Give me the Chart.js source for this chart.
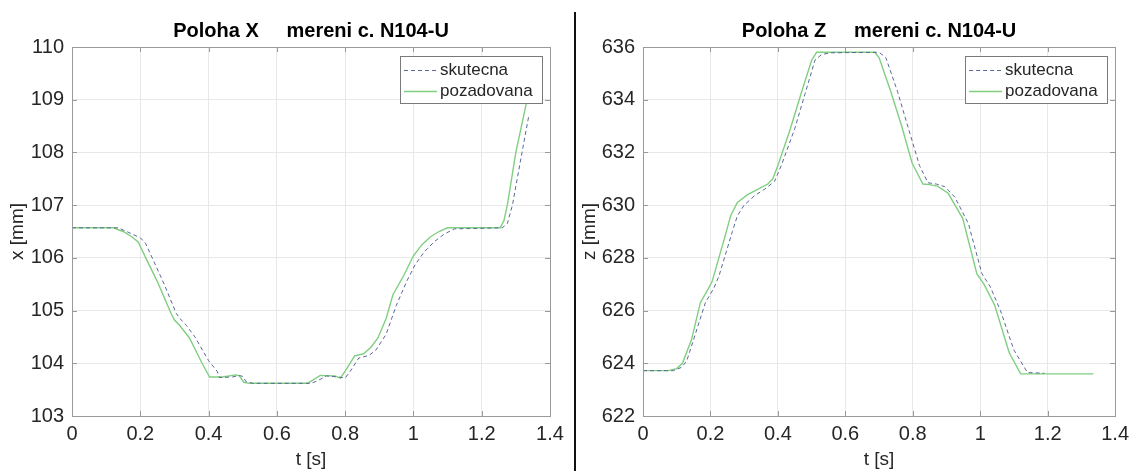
<!DOCTYPE html>
<html>
<head>
<meta charset="utf-8">
<script src="https://cdn.jsdelivr.net/npm/chart.js@4"></script>
<style>
  html, body { margin: 0; padding: 0; background: #fff; }
  #wrap { position: relative; width: 1135px; height: 471px; overflow: hidden; }
  #chartX { position: absolute; left: 0; top: 0; }
  #chartZ { position: absolute; left: 576px; top: 0; }
  #divider { position: absolute; left: 574px; top: 12px; width: 2px; bottom: 0; background: #111; }
</style>
</head>
<body>
<div id="wrap">
  <canvas id="chartX" width="576" height="471"></canvas>
  <div id="divider"></div>
  <canvas id="chartZ" width="559" height="471"></canvas>
</div>
<script>
// Poloha X - skutecna (dashed) and pozadovana (solid)
const tXSkut = [0, 0.135, 0.16, 0.2, 0.215, 0.235, 0.27, 0.305, 0.32, 0.335, 0.36, 0.40, 0.425, 0.432, 0.47, 0.49, 0.5, 0.51, 0.53, 0.70, 0.72, 0.745, 0.78, 0.80, 0.815, 0.84, 0.87, 0.89, 0.92, 0.95, 0.98, 1.005, 1.03, 1.06, 1.09, 1.12, 1.26, 1.275, 1.29, 1.318, 1.338];
const xSkut = [106.57, 106.57, 106.5, 106.38, 106.28, 106.0, 105.5, 104.95, 104.82, 104.72, 104.5, 104.05, 103.85, 103.73, 103.74, 103.77, 103.75, 103.65, 103.62, 103.62, 103.67, 103.76, 103.74, 103.72, 103.85, 104.1, 104.15, 104.25, 104.55, 105.1, 105.55, 105.87, 106.1, 106.3, 106.45, 106.55, 106.57, 106.65, 107.0, 108.0, 108.7];
const tXPoz = [0, 0.121, 0.15, 0.175, 0.194, 0.216, 0.25, 0.27, 0.29, 0.30, 0.315, 0.344, 0.381, 0.403, 0.44, 0.48, 0.49, 0.503, 0.52, 0.69, 0.71, 0.727, 0.77, 0.786, 0.80, 0.828, 0.854, 0.875, 0.896, 0.92, 0.94, 0.972, 1.0, 1.025, 1.05, 1.075, 1.10, 1.254, 1.265, 1.275, 1.30, 1.333];
const xPoz = [106.57, 106.57, 106.5, 106.4, 106.3, 106.0, 105.55, 105.25, 104.95, 104.82, 104.72, 104.48, 104.0, 103.74, 103.74, 103.78, 103.76, 103.64, 103.62, 103.62, 103.7, 103.77, 103.76, 103.72, 103.85, 104.14, 104.18, 104.3, 104.48, 104.85, 105.3, 105.67, 106.04, 106.25, 106.4, 106.5, 106.57, 106.57, 106.7, 107.0, 108.0, 109.0];

// Poloha Z
const tZSkut = [0, 0.09, 0.115, 0.13, 0.16, 0.185, 0.21, 0.225, 0.265, 0.28, 0.30, 0.33, 0.36, 0.39, 0.41, 0.45, 0.48, 0.51, 0.53, 0.56, 0.70, 0.72, 0.755, 0.785, 0.82, 0.845, 0.87, 0.895, 0.925, 0.965, 1.005, 1.03, 1.06, 1.10, 1.14, 1.19];
const zSkut = [623.72, 623.72, 623.85, 624.1, 625.3, 626.3, 626.85, 627.3, 629.0, 629.6, 630.0, 630.35, 630.6, 630.9, 631.5, 632.9, 634.2, 635.5, 635.72, 635.78, 635.8, 635.6, 634.3, 633.0, 631.5, 630.85, 630.8, 630.7, 630.3, 629.3, 627.4, 626.9, 626.0, 624.5, 623.65, 623.62];
const tZPoz = [0, 0.075, 0.1, 0.117, 0.144, 0.17, 0.19, 0.205, 0.245, 0.26, 0.28, 0.31, 0.34, 0.37, 0.385, 0.40, 0.437, 0.468, 0.50, 0.515, 0.687, 0.70, 0.735, 0.767, 0.798, 0.83, 0.85, 0.873, 0.905, 0.948, 0.99, 1.011, 1.043, 1.086, 1.12, 1.336];
const zPoz = [623.72, 623.72, 623.8, 624.0, 624.9, 626.3, 626.75, 627.1, 628.9, 629.6, 630.1, 630.4, 630.6, 630.8, 631.0, 631.5, 632.9, 634.2, 635.5, 635.8, 635.8, 635.6, 634.3, 633.0, 631.6, 630.8, 630.78, 630.72, 630.45, 629.5, 627.4, 627.0, 626.2, 624.4, 623.6, 623.6];

const seriesNames = ['skutecna', 'pozadovana'];

const FONT = 'Arial, "Liberation Sans", sans-serif';
const TEXT_COLOR = '#262626';
const SKUT_COLOR = '#5a6897';
const POZ_COLOR = '#80cf80';
Chart.defaults.font.family = FONT;
Chart.defaults.color = TEXT_COLOR;

const pts = (ts, vs) => ts.map((t, i) => ({ x: t, y: vs[i] }));

// MATLAB-like axes box with inward ticks
const axesBox = {
  id: 'axesBox',
  afterDatasetsDraw(chart) {
    const { ctx, chartArea: a, scales } = chart;
    ctx.save();
    ctx.strokeStyle = '#9a9a9a';
    ctx.lineWidth = 1;
    ctx.beginPath();
    scales.x.ticks.forEach(t => {
      const px = Math.round(scales.x.getPixelForValue(t.value)) + 0.5;
      ctx.moveTo(px, a.bottom); ctx.lineTo(px, a.bottom - 5);
      ctx.moveTo(px, a.top); ctx.lineTo(px, a.top + 5);
    });
    scales.y.ticks.forEach(t => {
      const py = Math.round(scales.y.getPixelForValue(t.value)) + 0.5;
      ctx.moveTo(a.left, py); ctx.lineTo(a.left + 5, py);
      ctx.moveTo(a.right, py); ctx.lineTo(a.right - 5, py);
    });
    ctx.stroke();
    ctx.strokeRect(Math.round(a.left) + 0.5, Math.round(a.top) + 0.5,
      Math.round(a.right - a.left), Math.round(a.bottom - a.top));
    ctx.restore();
  }
};

// legend box in the upper right corner of the axes
const boxLegend = {
  id: 'boxLegend',
  afterDraw(chart) {
    const { ctx, chartArea: a } = chart;
    const w = 142, h = 47;
    const x0 = a.right - 8 - w, y0 = a.top + 9;
    ctx.save();
    ctx.fillStyle = '#fff';
    ctx.fillRect(x0, y0, w, h);
    ctx.strokeStyle = '#7a7a7a';
    ctx.lineWidth = 1;
    ctx.strokeRect(Math.round(x0) + 0.5, Math.round(y0) + 0.5, w, h);
    ctx.font = '17px ' + FONT;
    ctx.textBaseline = 'middle';
    ctx.fillStyle = TEXT_COLOR;
    chart.data.datasets.forEach((ds, i) => {
      const y = Math.round(y0 + 14 + i * 21) + 0.5;
      ctx.strokeStyle = ds.borderColor;
      ctx.lineWidth = ds.borderWidth;
      ctx.setLineDash(ds.borderDash || []);
      ctx.beginPath();
      ctx.moveTo(x0 + 4, y); ctx.lineTo(x0 + 37, y);
      ctx.stroke();
      ctx.setLineDash([]);
      ctx.fillText(ds.label, x0 + 40, y);
    });
    ctx.restore();
  }
};

function makeChart(id, title, yTitle, yMin, yMax, yStep, yWidth, yTitlePad, rightPad, skut, poz) {
  return new Chart(document.getElementById(id), {
    type: 'line',
    data: {
      datasets: [
        { label: seriesNames[0], data: skut, borderColor: SKUT_COLOR, borderWidth: 1, borderDash: [4, 3], pointRadius: 0, tension: 0 },
        { label: seriesNames[1], data: poz, borderColor: POZ_COLOR, borderWidth: 1.4, pointRadius: 0, tension: 0 }
      ]
    },
    options: {
      responsive: false,
      animation: false,
      layout: { padding: { left: 0, right: rightPad, top: 0, bottom: 0 } },
      plugins: {
        legend: { display: false },
        tooltip: { enabled: false },
        title: {
          display: true, text: title, fullSize: false, color: '#000',
          font: { size: 20, weight: 'bold' }, padding: { top: 19, bottom: 4 }
        }
      },
      scales: {
        x: {
          type: 'linear', min: 0, max: 1.4,
          ticks: {
            stepSize: 0.2, font: { size: 20 }, padding: 6, maxRotation: 0,
            callback: v => String(Number(v.toFixed(1)))   // "1" instead of "1.0"
          },
          grid: { color: '#e8e8e8', drawTicks: false },
          border: { display: false },
          title: { display: true, text: 't [s]', font: { size: 19 }, padding: 0 },
          afterFit: s => { s.height = 55; }
        },
        y: {
          min: yMin, max: yMax,
          ticks: { stepSize: yStep, font: { size: 20 }, padding: 8 },
          grid: { color: '#e8e8e8', drawTicks: false },
          border: { display: false },
          title: { display: true, text: yTitle, font: { size: 19 }, padding: { top: yTitlePad, bottom: 0 } },
          afterFit: s => { s.width = yWidth; }
        }
      }
    },
    plugins: [axesBox, boxLegend]
  });
}

makeChart('chartX', 'Poloha X     mereni c. N104-U', 'x [mm]', 103, 110, 1, 72, 6, 26,
  pts(tXSkut, xSkut), pts(tXPoz, xPoz));
makeChart('chartZ', 'Poloha Z     mereni c. N104-U', 'z [mm]', 622, 636, 2, 67, 2, 16,
  pts(tZSkut, zSkut), pts(tZPoz, zPoz));
</script>
</body>
</html>
